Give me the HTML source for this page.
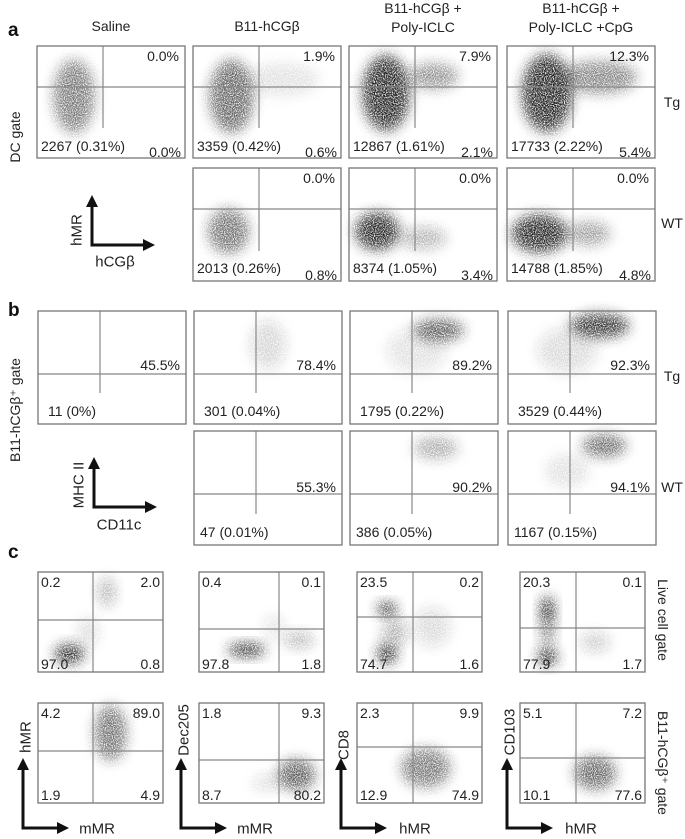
<!DOCTYPE html>
<html><head><meta charset="utf-8"><style>
html,body{margin:0;padding:0;background:#fff;width:685px;height:839px;overflow:hidden}
svg{display:block;font-family:"Liberation Sans",sans-serif}
</style></head><body>
<svg id="fig" width="685" height="839" viewBox="0 0 685 839" xmlns="http://www.w3.org/2000/svg">
<defs>
<filter id="bl" x="-50%" y="-50%" width="200%" height="200%">
<feGaussianBlur in="SourceGraphic" stdDeviation="6" result="b"/>
<feTurbulence type="fractalNoise" baseFrequency="0.9" numOctaves="1" seed="3" result="n"/>
<feColorMatrix in="n" type="matrix" values="0 0 0 0 0  0 0 0 0 0  0 0 0 0 0  0 0 0 -3 2.2" result="m"/>
<feComposite in="b" in2="m" operator="in"/>
</filter>
<marker id="ah" markerWidth="4" markerHeight="4" refX="2" refY="2" orient="auto"><path d="M0,0 L4,2 L0,4 z" fill="#111"/></marker>
</defs>
</svg>
<script>
const NS='http://www.w3.org/2000/svg';
const svg=document.getElementById('fig');
// ---- data ----
const aTitles=['Saline','B11-hCGβ','B11-hCGβ +|Poly-ICLC','B11-hCGβ +|Poly-ICLC +CpG'];
const aTgTop=['0.0%','1.9%','7.9%','12.3%'];
const aTgCount=['2267 (0.31%)','3359 (0.42%)','12867 (1.61%)','17733 (2.22%)'];
const aTgBR=['0.0%','0.6%','2.1%','5.4%'];
const aWtTop=['0.0%','0.0%','0.0%'];
const aWtCount=['2013 (0.26%)','8374 (1.05%)','14788 (1.85%)'];
const aWtBR=['0.8%','3.4%','4.8%'];
const bTgPct=['45.5%','78.4%','89.2%','92.3%'];
const bTgCount=['11 (0%)','301 (0.04%)','1795 (0.22%)','3529 (0.44%)'];
const bWtPct=['55.3%','90.2%','94.1%'];
const bWtCount=['47 (0.01%)','386 (0.05%)','1167 (0.15%)'];
const cRow1=[['0.2','2.0','97.0','0.8'],['0.4','0.1','97.8','1.8'],['23.5','0.2','74.7','1.6'],['20.3','0.1','77.9','1.7']];
const cRow2=[['4.2','89.0','1.9','4.9'],['1.8','9.3','8.7','80.2'],['2.3','9.9','12.9','74.9'],['5.1','7.2','10.1','77.6']];
const cXLabels=['mMR','mMR','hMR','hMR'];
const cYLabels=['hMR','Dec205','CD8','CD103'];
// clusters: [cx, cy, rx, ry, opacity] as fractions of the plot
const clA1=[[[.25,.45,.14,.33,.6]],[[.26,.45,.15,.33,.7],[.6,.3,.25,.15,.12]],[[.25,.42,.16,.34,1],[.57,.27,.17,.12,.5]],[[.27,.42,.17,.35,1],[.62,.28,.26,.15,.55]]];
const clA2=[[[.24,.56,.14,.2,.65]],[[.19,.56,.15,.17,1],[.5,.62,.16,.1,.35]],[[.22,.58,.19,.17,1],[.55,.58,.15,.11,.45]]];
const clB1=[[],[[.5,.3,.12,.22,.2]],[[.6,.17,.17,.1,.75],[.45,.35,.2,.2,.15]],[[.62,.13,.2,.11,.95],[.4,.35,.2,.2,.18]]];
const clB2=[[],[[.58,.15,.15,.1,.4]],[[.65,.13,.15,.1,.7],[.4,.35,.15,.15,.12]]];
const clC1=[[[.25,.82,.12,.1,1],[.55,.2,.07,.15,.35],[.4,.6,.08,.15,.18]],[[.38,.78,.15,.07,1],[.8,.68,.12,.08,.35],[.6,.55,.08,.12,.15]],[[.24,.37,.08,.07,1],[.24,.82,.08,.1,1],[.3,.6,.1,.15,.35],[.6,.55,.15,.2,.18]],[[.22,.38,.06,.14,1],[.22,.85,.08,.09,1],[.22,.6,.06,.15,.55],[.6,.7,.12,.1,.25]]];
const clC2=[[[.58,.3,.13,.28,.65]],[[.78,.72,.15,.16,.75],[.55,.8,.12,.08,.18]],[[.55,.65,.2,.2,.6]],[[.6,.7,.17,.17,.7]]];

function el(tag,attrs,parent){const e=document.createElementNS(NS,tag);for(const k in attrs)e.setAttribute(k,attrs[k]);(parent||svg).appendChild(e);return e;}
function txt(x,y,s,opts,name){const t=el('text',Object.assign({x:x,y:y,'font-size':14,fill:'#222'},opts||{}));t.textContent=s;


return t;}
function plot(x,y,w,h,vx,hy,vEnd,clusters,name){
  const g=el('g',{});
  
  
  clusters.forEach(c=>{
    const e=el('ellipse',{cx:x+c[0]*w,cy:y+c[1]*h,rx:c[2]*w,ry:c[3]*h,fill:'#222','fill-opacity':c[4],filter:'url(#bl)'},g);
    
    
  });
  const vl=el('line',{x1:x+vx,y1:y,x2:x+vx,y2:y+(vEnd||h),stroke:'#888','stroke-width':1.2},g);
  
  
  const hl=el('line',{x1:x,y1:y+hy,x2:x+w,y2:y+hy,stroke:'#888','stroke-width':1.2},g);
  
  
  const r=el('rect',{x:x,y:y,width:w,height:h,fill:'none',stroke:'#777','stroke-width':1.3},g);
  
  
}
function arrows(x0,y0,yTop,xRight,ylab,xlab,lx,ly,xlx,xly,name){
  const g=el('g',{});
  
  
  el('path',{d:`M${x0},${y0} L${x0},${yTop+4}`,stroke:'#111','stroke-width':3,fill:'none','marker-end':'url(#ah)'},g);
  el('path',{d:`M${x0-1.5},${y0} L${xRight-4},${y0}`,stroke:'#111','stroke-width':3,fill:'none','marker-end':'url(#ah)'},g);
  txt(lx,ly,ylab,{'text-anchor':'middle',transform:`rotate(-90 ${lx} ${ly})`,'dominant-baseline':'central','font-size':15},'y-axis-label');
  txt(xlx,xly,xlab,{'text-anchor':'middle','dominant-baseline':'central','font-size':15},'x-axis-label');
}
// panel letters
txt(8,36,'a',{'font-size':19,'font-weight':'bold',fill:'#111'},'panel-a-label');
txt(8,316,'b',{'font-size':19,'font-weight':'bold',fill:'#111'},'panel-b-label');
txt(8,558,'c',{'font-size':19,'font-weight':'bold',fill:'#111'},'panel-c-label');
// section a
const ax=[37,193,349,507], W=148;
aTitles.forEach((t,i)=>{const parts=t.split('|');const cx=ax[i]+74;
  if(parts.length===1)txt(cx,31,parts[0],{'text-anchor':'middle'},'column-title');
  else{txt(cx,13,parts[0],{'text-anchor':'middle'},'column-title');txt(cx,32,parts[1],{'text-anchor':'middle'},'column-title');}
});
for(let i=0;i<4;i++){
  const x=ax[i];plot(x,46,W,112,66,41,82,clA1[i],'dc-plot-tg');
  txt(x+W-6,61,aTgTop[i],{'text-anchor':'end'},'upper-right-percent');
  txt(x+4,151,aTgCount[i],{},'cell-count');
  txt(x+W-4,157,aTgBR[i],{'text-anchor':'end'},'lower-right-percent');
}
for(let i=0;i<3;i++){
  const x=ax[i+1];plot(x,168,W,113,66,41,83,clA2[i],'dc-plot-wt');
  txt(x+W-6,183,aWtTop[i],{'text-anchor':'end'},'upper-right-percent');
  txt(x+4,273,aWtCount[i],{},'cell-count');
  txt(x+W-4,280,aWtBR[i],{'text-anchor':'end'},'lower-right-percent');
}
txt(672,102,'Tg',{'text-anchor':'middle','dominant-baseline':'central'},'tg-row-label');
txt(672,223,'WT',{'text-anchor':'middle','dominant-baseline':'central'},'wt-row-label');
txt(15,137,'DC gate',{'text-anchor':'middle','dominant-baseline':'central',transform:'rotate(-90 15 137)'},'dc-gate-label');
arrows(92,245,197,153,'hMR','hCGβ',77,230,115,262,'axis-key-a');
// section b
for(let i=0;i<4;i++){
  const x=ax[i]+1;plot(x,311,W,113,62,63,82,clB1[i],'mhc-plot-tg');
  txt(x+W-6,370,bTgPct[i],{'text-anchor':'end'},'double-positive-percent');
  txt(x+10,416,bTgCount[i],{},'cell-count');
}
for(let i=0;i<3;i++){
  const x=ax[i+1]+1;plot(x,431,W,114,62,63,83,clB2[i],'mhc-plot-wt');
  txt(x+W-6,492,bWtPct[i],{'text-anchor':'end'},'double-positive-percent');
  txt(x+6,537,bWtCount[i],{},'cell-count');
}
txt(672,376,'Tg',{'text-anchor':'middle','dominant-baseline':'central'},'tg-row-label');
txt(672,487,'WT',{'text-anchor':'middle','dominant-baseline':'central'},'wt-row-label');
txt(15,410,'B11-hCGβ⁺ gate',{'text-anchor':'middle','dominant-baseline':'central',transform:'rotate(-90 15 410)'},'b11-gate-label');
arrows(94,507,459,155,'MHC II','CD11c',79,485,119,525,'axis-key-b');
// section c
const cx=[38,199,357,520], CW=125, CH=100;
const cv1=[55,80,56,56], ch1=[48,57,45,56], ch2=[48,57,44,55];
for(let i=0;i<4;i++){
  const x=cx[i];
  plot(x,572,CW,CH,cv1[i],ch1[i],CH,clC1[i],'live-cell-plot');
  txt(x+3,587,cRow1[i][0],{},'quadrant-ul');txt(x+CW-3,587,cRow1[i][1],{'text-anchor':'end'},'quadrant-ur');
  txt(x+3,669,cRow1[i][2],{},'quadrant-ll');txt(x+CW-3,669,cRow1[i][3],{'text-anchor':'end'},'quadrant-lr');
  plot(x,703,CW,CH,cv1[i],ch2[i],CH,clC2[i],'b11-plot');
  txt(x+3,718,cRow2[i][0],{},'quadrant-ul');txt(x+CW-3,718,cRow2[i][1],{'text-anchor':'end'},'quadrant-ur');
  txt(x+3,800,cRow2[i][2],{},'quadrant-ll');txt(x+CW-3,800,cRow2[i][3],{'text-anchor':'end'},'quadrant-lr');
}
const axX=[23,181,341,507], ayC=[737,730,745,732];
for(let i=0;i<4;i++){
  arrows(axX[i],828,760,axX[i]+44,cYLabels[i],cXLabels[i],axX[i]+3,ayC[i],axX[i]+74,829,'axis-key-c');
}
txt(663,620,'Live cell gate',{'text-anchor':'middle','dominant-baseline':'central',transform:'rotate(90 663 620)'},'live-cell-gate-label');
txt(663,763,'B11-hCGβ⁺ gate',{'text-anchor':'middle','dominant-baseline':'central',transform:'rotate(90 663 763)'},'b11-gate-label-c');
</script>
</body></html>
